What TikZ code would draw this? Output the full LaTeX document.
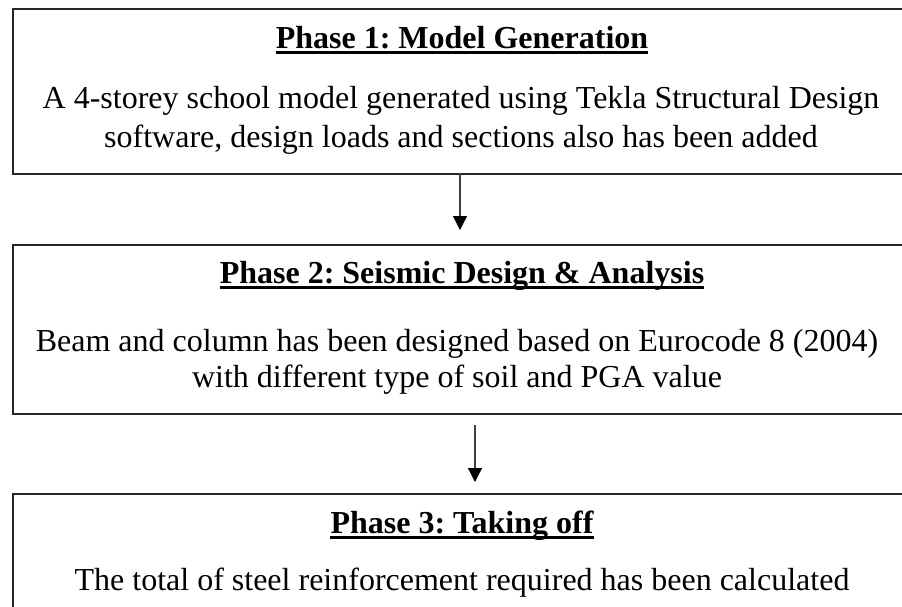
\documentclass[tikz,border=0pt]{standalone}
\usepackage{fontspec}
\setmainfont{Liberation Serif}
\usetikzlibrary{arrows.meta}
\frenchspacing
\begin{document}
\begin{tikzpicture}[x=1pt,y=-1pt,
  box/.style={draw=black!85, line width=1.6pt, minimum width=900pt, inner sep=0pt, anchor=north west},
  title/.style={font=\fontsize{32}{38}\selectfont\bfseries\frenchspacing, inner sep=0pt, anchor=base},
  body/.style={font=\fontsize{32}{38}\selectfont\frenchspacing, inner sep=0pt, anchor=base, align=center},
  uline/.style={line width=3pt},
  arr/.style={line width=1.2pt, black!75, -{Triangle[width=14pt,length=14pt,black]}}]
\useasboundingbox (0,0) rectangle (902,606);
\clip (0,0) rectangle (902,606);
% boxes
\node[box, minimum height=165pt] (b1) at (12,8) {};
\node[box, minimum height=169pt] (b2) at (12,244) {};
\node[box, minimum height=190pt] (b3) at (12,493) {};
% titles
\node[title] (t1) at (462,48) {Phase 1: Model Generation};
\node[title] (t2) at (462,283) {Phase 2: Seismic Design \& Analysis};
\node[title] (t3) at (462,533) {Phase 3: Taking off};
\foreach \t in {t1,t2,t3}
  \draw[uline] ([yshift=-4pt]\t.base west) -- ([yshift=-4pt]\t.base east);
% bodies
\node[body] (d1a) at (461,108) {A 4-storey school model generated using Tekla Structural Design};
\node[body] (d1b) at (461,147) {software, design loads and sections also has been added};
\node[body] (d2a) at (457,351) {Beam and column has been designed based on Eurocode 8 (2004)};
\node[body] (d2b) at (457,387) {with different type of soil and PGA value};
\node[body] (d3a) at (462,590) {The total of steel reinforcement required has been calculated};
% arrows
\coordinate (a1s) at (460,173);
\coordinate (a1e) at (460,230);
\coordinate (a2s) at (475,425);
\coordinate (a2e) at (475,482);
\draw[arr] (a1s) -- (a1e);
\draw[arr] (a2s) -- (a2e);
\end{tikzpicture}
\end{document}
